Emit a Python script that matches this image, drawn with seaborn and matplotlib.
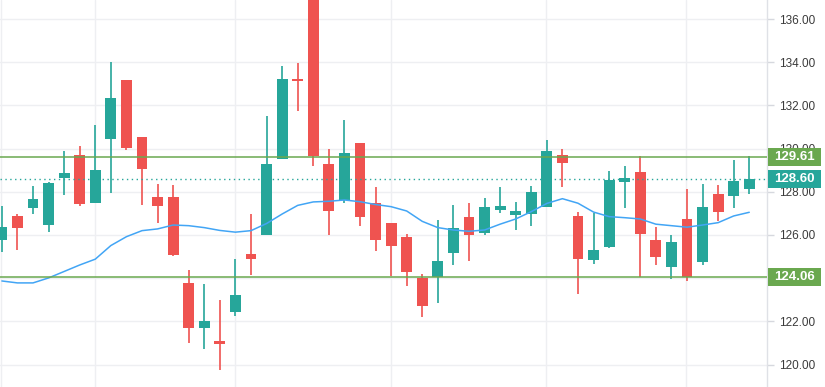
import matplotlib
matplotlib.use("Agg")
import matplotlib.pyplot as plt
import matplotlib.transforms as mtransforms
from matplotlib.patches import Rectangle
import numpy as np
import pandas as pd
import seaborn as sns

# OHLC values, one entry per candle
opens = [125.78, 126.88, 127.26, 126.46, 128.65, 129.70, 127.50, 130.46, 133.18, 130.54,
         127.76, 127.76, 123.78, 121.71, 121.09, 122.45, 125.12, 126.01, 129.53, 133.22,
         137.60, 129.29, 127.62, 130.26, 127.48, 126.56, 125.91, 124.02, 124.06, 125.18,
         126.83, 126.11, 127.17, 126.94, 126.99, 127.31, 129.70, 126.88, 124.86, 125.46,
         128.47, 128.92, 125.77, 124.53, 126.74, 124.76, 127.90, 127.82, 128.14]
highs = [127.34, 126.97, 128.27, 128.47, 129.89, 130.13, 131.09, 134.01, 133.18, 130.54,
         128.36, 128.31, 124.38, 123.73, 122.99, 124.89, 126.97, 131.51, 133.82, 133.96,
         137.90, 129.98, 131.32, 130.26, 128.22, 126.56, 126.05, 124.19, 126.69, 127.39,
         127.48, 127.71, 128.22, 127.53, 128.27, 130.40, 129.98, 127.06, 127.03, 128.96,
         129.19, 129.66, 126.37, 126.00, 128.13, 128.36, 128.31, 129.47, 129.67]
lows = [125.23, 125.32, 126.99, 126.15, 127.87, 127.34, 127.50, 127.96, 129.94, 127.40,
        126.57, 125.03, 121.01, 120.74, 119.76, 122.26, 124.15, 126.01, 129.53, 131.75,
        129.21, 126.01, 127.50, 126.43, 125.27, 124.12, 123.65, 122.22, 122.87, 124.63,
        124.81, 126.01, 127.03, 126.25, 126.43, 127.31, 128.24, 123.28, 124.67, 125.41,
        127.26, 124.07, 124.63, 123.98, 123.88, 124.63, 126.65, 127.26, 127.91]
closes = [126.37, 126.32, 127.67, 128.41, 128.87, 127.45, 129.01, 132.34, 130.04, 129.07,
          127.36, 125.09, 121.71, 122.02, 120.97, 123.22, 124.90, 129.29, 133.22, 133.14,
          129.67, 127.13, 129.80, 126.85, 125.78, 125.50, 124.30, 122.73, 124.80, 126.32,
          126.01, 127.30, 127.34, 127.11, 127.99, 129.89, 129.35, 124.90, 125.31, 128.55,
          128.64, 126.06, 125.00, 125.68, 124.07, 127.30, 127.08, 128.50, 128.60]
moving_avg = [123.87, 123.78, 123.78, 124.01, 124.31, 124.61, 124.88, 125.51, 125.92, 126.20,
              126.28, 126.46, 126.43, 126.34, 126.21, 126.13, 126.20, 126.53, 126.97, 127.37,
              127.53, 127.56, 127.62, 127.54, 127.41, 127.31, 127.11, 126.63, 126.34, 126.23,
              126.17, 126.23, 126.50, 126.74, 127.08, 127.46, 127.68, 127.47, 127.06, 126.85,
              126.80, 126.74, 126.50, 126.43, 126.36, 126.46, 126.57, 126.88, 127.05]

resistance = 129.61
support = 124.06
last_price = 128.60
y_ticks = [120, 122, 124, 126, 128, 130, 132, 134, 136]
time_grid = [0, 6, 15, 25, 35, 44]

df = pd.DataFrame({"open": opens, "high": highs, "low": lows, "close": closes, "ma": moving_avg})
df["idx"] = np.arange(len(df))
up = df["close"] >= df["open"]

UP = "#26a69a"
DOWN = "#ef5350"
GREEN = "#6aa84f"

sns.set_theme(style="white")
plt.rcParams["font.family"] = ["Liberation Sans", "DejaVu Sans"]

fig = plt.figure(figsize=(8.25, 3.87), dpi=100)
ax = fig.add_axes([0, 0, 767 / 825, 1])

for t in y_ticks:
    ax.axhline(t, color="#eeeff2", lw=1, zorder=0)
for g in time_grid:
    ax.axvline(g - 0.04, color="#eeeff2", lw=1, zorder=0)

colors = np.where(up, UP, DOWN)
ax.vlines(df["idx"], df["low"], df["high"], colors=colors, lw=1.2, zorder=2)
body_bottom = np.minimum(df["open"], df["close"])
body_height = np.maximum(np.abs(df["close"] - df["open"]), 0.08)
ax.bar(df["idx"], body_height, bottom=body_bottom, width=0.7, color=colors, lw=0, zorder=3)

sns.lineplot(data=df, x="idx", y="ma", ax=ax, color="#42a5f5", lw=1.1, zorder=4)

ax.axhline(resistance, color=GREEN, lw=1.1, zorder=5)
ax.axhline(support, color=GREEN, lw=1.1, zorder=5)
ax.axhline(last_price, color=UP, lw=1, ls=(0, (1, 2.5)), zorder=5)

ax.set_xlim(-0.12, 49.14)
ax.set_ylim(118.96, 136.88)
ax.set_yticks(y_ticks)
ax.set_yticklabels([f"{t:.2f}" for t in y_ticks])
ax.yaxis.tick_right()
ax.tick_params(axis="y", right=True, length=5, width=1, color="#d6d8de",
               labelsize=8.5, labelcolor="#3b3b3b", pad=4)
ax.set_xticks([])
ax.set_xlabel("")
ax.set_ylabel("")
for side in ["top", "left", "bottom"]:
    ax.spines[side].set_visible(False)
ax.spines["right"].set_color("#dfe1e6")
ax.spines["right"].set_linewidth(1)

# price tags on the right scale
trans = mtransforms.blended_transform_factory(ax.transAxes, ax.transData)
tag_w = 53 / 767
tag_h = 18.5 / 21.6
for val, col in [(resistance, GREEN), (last_price, UP), (support, GREEN)]:
    ax.add_patch(Rectangle((1.0015, val - tag_h / 2), tag_w, tag_h, transform=trans,
                           fc=col, ec="none", clip_on=False, zorder=10))
    ax.text(1.0015 + tag_w / 2, val, f"{val:.2f}", transform=trans, ha="center", va="center",
            fontsize=9.5, fontweight="bold", color="white", clip_on=False, zorder=11)

fig.savefig("out.png", dpi=100)
